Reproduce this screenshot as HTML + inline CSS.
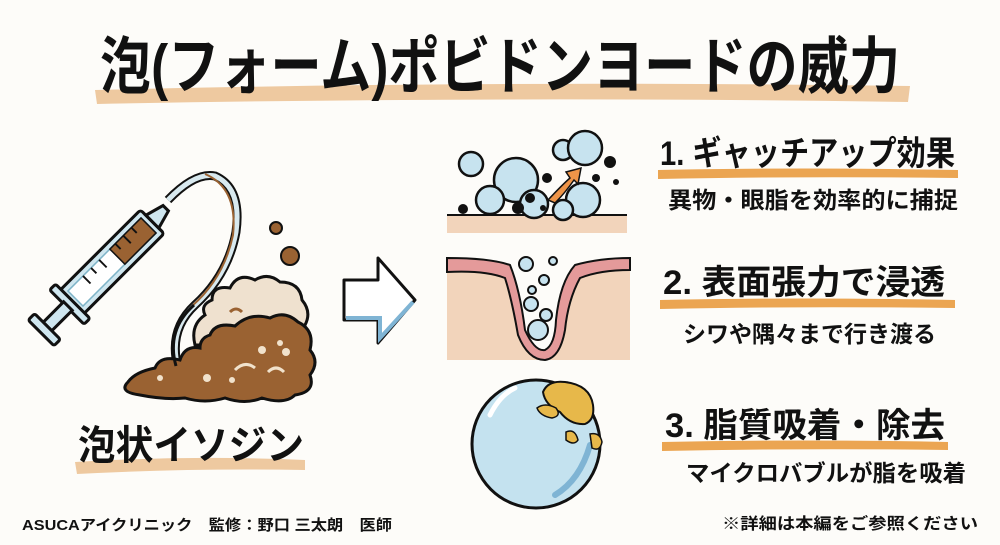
<!DOCTYPE html>
<html><head><meta charset="utf-8"><style>
html,body{margin:0;padding:0;background:#fdfcf9;}
svg{display:block}
text{font-family:"Liberation Sans","Noto Sans CJK JP",sans-serif;font-weight:bold;fill:#111}
</style></head><body>
<svg width="1000" height="545" viewBox="0 0 1000 545">
<rect width="1000" height="545" fill="#fdfcf9"/>
<!-- title -->
<path d="M95 90 Q500 80 910 86 L908 102 Q500 96 97 104 Z" fill="#eec9a0"/>
<text x="100" y="88" font-size="62" textLength="800" lengthAdjust="spacingAndGlyphs">泡(フォーム)ポビドンヨードの威力</text>

<!-- syringe -->
<g transform="translate(112,262) rotate(-45) scale(0.76)">
 <rect x="-75" y="-22" width="150" height="44" rx="4" fill="#cfe6ef" stroke="#111" stroke-width="4"/>
 <rect x="-68" y="-14" width="136" height="28" fill="#fff" stroke="#7fb4c8" stroke-width="2"/>
 <rect x="10" y="-14" width="58" height="28" fill="#9a6232" stroke="#111" stroke-width="2"/>
 <g stroke="#111" stroke-width="2.5"><line x1="-40" y1="-14" x2="-40" y2="0"/><line x1="-25" y1="-14" x2="-25" y2="-4"/><line x1="-10" y1="-14" x2="-10" y2="0"/><line x1="20" y1="-14" x2="20" y2="-4"/><line x1="35" y1="-14" x2="35" y2="0"/><line x1="50" y1="-14" x2="50" y2="-4"/></g>
 <rect x="-84" y="-32" width="11" height="64" rx="3" fill="#cfe6ef" stroke="#111" stroke-width="4"/>
 <rect x="-120" y="-8" width="38" height="16" fill="#cfe6ef" stroke="#111" stroke-width="4"/>
 <rect x="-132" y="-24" width="12" height="48" rx="3" fill="#cfe6ef" stroke="#111" stroke-width="4"/>
 <path d="M75 -12 L100 -5 L100 5 L75 12 Z" fill="#cfe6ef" stroke="#111" stroke-width="4"/>
</g>
<!-- tube -->
<path d="M168 200 Q195 172 215 176 Q242 188 236 232 Q228 275 195 305 Q168 330 178 368" fill="none" stroke="#111" stroke-width="9"/>
<path d="M168 200 Q195 172 215 176 Q242 188 236 232 Q228 275 195 305 Q168 330 178 368" fill="none" stroke="#d8e9ef" stroke-width="5"/>
<path d="M205 174 Q238 188 233 235 Q224 278 192 306" fill="none" stroke="#9a6232" stroke-width="2"/>
<!-- foam -->
<path d="M212 300 Q212 285 230 288 Q238 272 255 280 Q268 272 280 282 Q300 282 302 300 Q312 312 305 325 L300 345 L195 345 Q190 325 205 315 Q200 305 212 300 Z" fill="#efe1cf" stroke="#111" stroke-width="3"/>
<path d="M210 335 Q215 322 235 326 Q250 312 270 318 Q285 310 298 322 Q315 330 310 350 Q320 362 310 375 Q316 392 295 395 Q285 405 262 398 Q245 405 225 398 Q205 404 185 398 Q165 400 140 395 Q118 392 128 382 Q135 372 155 368 Q160 355 180 360 Q185 345 200 348 Q200 338 210 335 Z" fill="#9a6232" stroke="#111" stroke-width="3"/>
<g fill="#f1e2cc"><circle cx="262" cy="350" r="4"/><circle cx="280" cy="343" r="3"/><circle cx="286" cy="352" r="4"/><circle cx="207" cy="378" r="4"/><circle cx="232" cy="380" r="3"/><circle cx="160" cy="378" r="3"/><path d="M235 370 Q245 360 255 368" stroke="#f1e2cc" stroke-width="3" fill="none"/><path d="M268 372 Q276 364 284 372" stroke="#f1e2cc" stroke-width="3" fill="none"/><path d="M230 312 Q236 306 242 312" stroke="#9a6232" stroke-width="3" fill="none"/></g>
<circle cx="276" cy="228" r="6" fill="#9a6232" stroke="#111" stroke-width="2"/>
<circle cx="290" cy="256" r="9" fill="#9a6232" stroke="#111" stroke-width="2"/>
<path d="M176 366 Q166 330 194 305" fill="none" stroke="#111" stroke-width="3"/>
<!-- arrow -->
<path d="M344 280 L378 280 L378 258 L415 300 L378 343 L378 320 L344 320 Z" fill="#fff" stroke="#111" stroke-width="3" stroke-linejoin="round"/>
<path d="M346 318 L380 318 L380 338 L413 302" fill="none" stroke="#7fb4d4" stroke-width="4"/>

<!-- panel 1 -->
<rect x="447" y="215" width="180" height="18" fill="#f2d4bb"/>
<line x1="447" y1="215" x2="627" y2="215" stroke="#111" stroke-width="2"/>
<g fill="#c7e3ef" stroke="#111" stroke-width="2.5">
<circle cx="471" cy="164" r="12"/><circle cx="516" cy="180" r="22"/><circle cx="490" cy="200" r="14"/><circle cx="534" cy="204" r="14"/><circle cx="563" cy="150" r="10"/><circle cx="585" cy="148" r="17"/><circle cx="583" cy="200" r="17"/><circle cx="563" cy="210" r="10"/>
</g>
<g fill="#111"><circle cx="463" cy="209" r="5"/><circle cx="518" cy="208" r="6"/><circle cx="530" cy="198" r="5"/><circle cx="547" cy="178" r="5"/><circle cx="610" cy="162" r="6"/><circle cx="596" cy="178" r="4"/><circle cx="616" cy="182" r="3"/><circle cx="543" cy="208" r="3"/></g>
<path d="M548 200 Q562 185 570 178 L566 172 L581 168 L578 184 L574 180 Q565 193 555 203 Z" fill="#ee9448" stroke="#111" stroke-width="1.5"/>

<!-- panel 2 -->
<path d="M447 258 Q490 258 510 265 Q520 290 525 330 Q535 352 545 350 Q555 345 556 320 Q560 282 575 265 Q600 258 630 258 L630 360 L447 360 Z" fill="#f2d4bb"/>
<path d="M447 258 Q490 258 510 265 Q520 290 525 330 Q535 352 545 350 Q555 345 556 320 Q560 282 575 265 Q600 258 630 258 L630 270 Q600 270 580 278 Q568 300 565 330 Q560 358 545 360 Q528 360 518 335 Q512 300 505 278 Q485 270 447 272 Z" fill="#e49a9a" stroke="#111" stroke-width="2"/>
<g fill="#c7e3ef" stroke="#111" stroke-width="2"><circle cx="526" cy="264" r="7"/><circle cx="553" cy="261" r="4"/><circle cx="544" cy="280" r="5"/><circle cx="532" cy="290" r="4"/><circle cx="531" cy="304" r="7"/><circle cx="546" cy="315" r="6"/><circle cx="538" cy="330" r="10"/></g>

<!-- sphere -->
<circle cx="536" cy="444" r="64" fill="#c4e2ef" stroke="#111" stroke-width="3"/>
<path d="M490 415 Q500 395 515 388" stroke="#fff" stroke-width="5" fill="none" stroke-linecap="round"/>
<path d="M590 445 Q580 480 555 495" stroke="#7fb4d4" stroke-width="6" fill="none" stroke-linecap="round"/>
<path d="M543 392 Q548 380 565 382 Q590 385 593 405 Q595 420 585 424 Q570 425 560 412 Q545 405 543 392 Z" fill="#e7b84a" stroke="#111" stroke-width="2"/>
<path d="M537 408 Q545 402 556 408 Q562 416 552 418 Q540 416 537 408 Z" fill="#e7b84a" stroke="#111" stroke-width="1.5"/>
<path d="M566 432 Q575 428 578 440 Q574 446 566 440 Z" fill="#e7b84a" stroke="#111" stroke-width="1.5"/>
<path d="M590 434 Q600 432 602 442 Q600 452 592 448 Z" fill="#e7b84a" stroke="#111" stroke-width="1.5"/>

<!-- right texts -->
<path d="M658 170 Q800 167 958 170 L958 178 Q800 176 658 179 Z" fill="#eba552"/>
<text x="660" y="165" font-size="34" textLength="295" lengthAdjust="spacingAndGlyphs">1. ギャッチアップ効果</text>
<text x="668" y="208" font-size="23" textLength="290" lengthAdjust="spacingAndGlyphs">異物・眼脂を効率的に捕捉</text>
<path d="M660 300 Q800 297 955 300 L955 308 Q800 306 660 309 Z" fill="#eba552"/>
<text x="663" y="294" font-size="34" textLength="282" lengthAdjust="spacingAndGlyphs">2. 表面張力で浸透</text>
<text x="683" y="342" font-size="23" textLength="253" lengthAdjust="spacingAndGlyphs">シワや隅々まで行き渡る</text>
<path d="M662 442 Q800 439 948 442 L948 450 Q800 448 662 451 Z" fill="#eba552"/>
<text x="665" y="437" font-size="34" textLength="280" lengthAdjust="spacingAndGlyphs">3. 脂質吸着・除去</text>
<text x="686" y="481" font-size="23" textLength="280" lengthAdjust="spacingAndGlyphs">マイクロバブルが脂を吸着</text>

<!-- left label -->
<path d="M75 462 Q190 455 305 460 L305 470 Q190 468 77 474 Z" fill="#eec9a0"/>
<text x="78" y="459" font-size="40" textLength="226" lengthAdjust="spacingAndGlyphs">泡状イソジン</text>

<!-- footer -->
<text x="22" y="530" font-size="15" textLength="370" lengthAdjust="spacingAndGlyphs">ASUCAアイクリニック　監修：野口 三太朗　医師</text>
<text x="722" y="529" font-size="16" textLength="256" lengthAdjust="spacingAndGlyphs">※詳細は本編をご参照ください</text>
</svg>
</body></html>
